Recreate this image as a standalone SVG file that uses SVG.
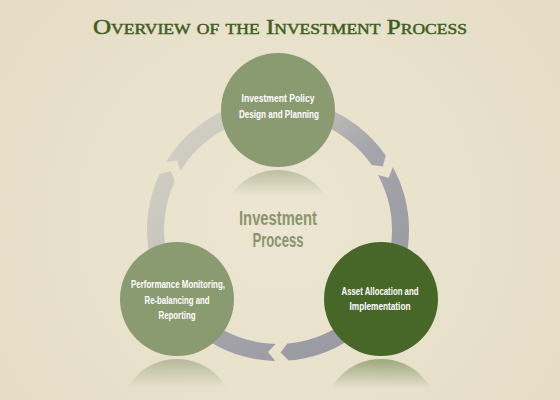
<svg xmlns="http://www.w3.org/2000/svg" width="560" height="400" viewBox="0 0 560 400">
<defs>
  <radialGradient id="bg" cx="280" cy="220" r="330" gradientUnits="userSpaceOnUse">
    <stop offset="0" stop-color="#ece6d2"/>
    <stop offset="1" stop-color="#e5ddc6"/>
  </radialGradient>
  <linearGradient id="ring" x1="150" y1="150" x2="330" y2="330" gradientUnits="userSpaceOnUse">
    <stop offset="0" stop-color="#d3d0c5"/>
    <stop offset="0.3" stop-color="#c8c6bc"/>
    <stop offset="0.6" stop-color="#a6a5ab"/>
    <stop offset="1" stop-color="#9b9ba4"/>
  </linearGradient>
  <linearGradient id="reflTop" x1="0" y1="170" x2="0" y2="196" gradientUnits="userSpaceOnUse">
    <stop offset="0" stop-color="#8a9a72" stop-opacity="0.5"/>
    <stop offset="1" stop-color="#8a9a72" stop-opacity="0"/>
  </linearGradient>
  <linearGradient id="reflSage" x1="0" y1="359" x2="0" y2="388" gradientUnits="userSpaceOnUse">
    <stop offset="0" stop-color="#8a9a72" stop-opacity="0.55"/>
    <stop offset="1" stop-color="#8a9a72" stop-opacity="0"/>
  </linearGradient>
  <linearGradient id="reflDark" x1="0" y1="359" x2="0" y2="388" gradientUnits="userSpaceOnUse">
    <stop offset="0" stop-color="#4f6d30" stop-opacity="0.5"/>
    <stop offset="1" stop-color="#4f6d30" stop-opacity="0"/>
  </linearGradient>
  <style>
    .title { font-family: "Liberation Serif", "DejaVu Serif", serif; font-variant: small-caps; font-size: 20px; fill: #3e5e1e; stroke: #3e5e1e; stroke-width: 0.45px; }
    .seg { fill: url(#ring); }
    .sage { fill: #8a9a71; }
    .dark { fill: #476729; }
    .lbl { font-family: "Liberation Sans", "DejaVu Sans", sans-serif; font-weight: bold; font-size: 10.5px; fill: #ffffff; text-anchor: middle; }
    .center { font-family: "Liberation Sans", "DejaVu Sans", sans-serif; font-weight: bold; font-size: 20px; fill: #8b9570; text-anchor: middle; }
  </style>
</defs>
<rect width="560" height="400" fill="url(#bg)"/>
<text class="title" x="280" y="34" text-anchor="middle" textLength="374" lengthAdjust="spacingAndGlyphs">Overview of the Investment Process</text>

<g id="connectors">
  <path class="seg" d="M165.94,162.14 A131,131 0 0 1 385.70,155.42 L382.79,166.54 L371.72,165.10 A114,114 0 0 0 180.48,170.95 L177.29,160.26 Z"/>
  <path class="seg" d="M392.80,166.88 A131,131 0 0 1 288.73,360.55 L280.56,352.47 L287.34,343.61 A114,114 0 0 0 377.90,175.07 L388.75,177.64 Z"/>
  <path class="seg" d="M275.26,360.97 A131,131 0 0 1 159.56,174.01 L170.65,170.98 L174.93,181.28 A114,114 0 0 0 275.62,343.97 L267.97,352.08 Z"/>
</g>

<g id="reflections">
  <circle cx="278" cy="227" r="57" fill="url(#reflTop)"/>
  <circle cx="177" cy="416" r="57" fill="url(#reflSage)"/>
  <circle cx="381" cy="416" r="57" fill="url(#reflDark)"/>
</g>

<g id="center-label">
  <text class="center" x="278" y="225" textLength="78" lengthAdjust="spacingAndGlyphs">Investment</text>
  <text class="center" x="278" y="247" textLength="51" lengthAdjust="spacingAndGlyphs">Process</text>
</g>

<g id="node-policy">
  <circle class="sage" cx="278" cy="110" r="57"/>
  <text class="lbl" x="278" y="102" textLength="73" lengthAdjust="spacingAndGlyphs">Investment Policy</text>
  <text class="lbl" x="279" y="118" textLength="80" lengthAdjust="spacingAndGlyphs">Design and Planning</text>
</g>

<g id="node-allocation">
  <circle class="dark" cx="381" cy="299" r="57"/>
  <text class="lbl" x="380" y="295" textLength="77" lengthAdjust="spacingAndGlyphs">Asset Allocation and</text>
  <text class="lbl" x="380" y="310" textLength="61" lengthAdjust="spacingAndGlyphs">Implementation</text>
</g>

<g id="node-monitoring">
  <circle class="sage" cx="177" cy="299" r="57"/>
  <text class="lbl" x="178" y="288" textLength="94" lengthAdjust="spacingAndGlyphs">Performance Monitoring,</text>
  <text class="lbl" x="177" y="304" textLength="65" lengthAdjust="spacingAndGlyphs">Re-balancing and</text>
  <text class="lbl" x="177" y="319" textLength="37" lengthAdjust="spacingAndGlyphs">Reporting</text>
</g>
</svg>
